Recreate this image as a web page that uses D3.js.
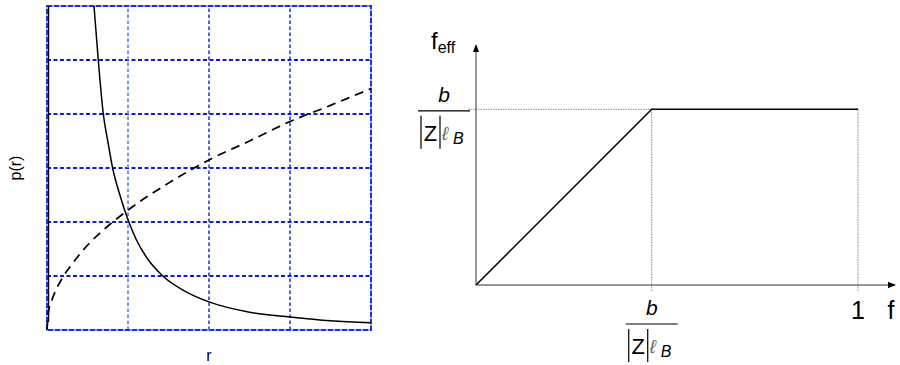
<!DOCTYPE html>
<html>
<head>
<meta charset="utf-8">
<script src="https://cdn.jsdelivr.net/npm/d3@7"></script>
<style>
  html, body { margin: 0; padding: 0; background: #fff; }
  svg { display: block; font-family: "Liberation Sans", Arial, sans-serif; }
</style>
</head>
<body>
<svg id="chart" width="900" height="365"></svg>
<script>
// ---- Left panel: p(r) curves ----
const decayR = [0.58, 0.633, 0.695, 0.75, 0.81, 0.9, 1.0, 1.1, 1.25, 1.43, 1.7, 2.0, 2.5, 3.0, 3.5, 4.0];
const decayP = [6.0, 5.0, 4.0, 3.5, 3.0, 2.5, 2.04, 1.68, 1.3, 1.0, 0.72, 0.52, 0.33, 0.24, 0.17, 0.135];
const growR = [0, 0.02, 0.06, 0.18, 0.3, 0.5, 0.68, 1.0, 1.5, 2.0, 2.5, 3.0, 3.5, 4.0];
const growP = [0, 0.35, 0.55, 0.94, 1.2, 1.57, 1.83, 2.22, 2.72, 3.15, 3.5, 3.86, 4.16, 4.47];
const edgeR = [0.02, 0.02];
const edgeP = [0, 6];
const rGrid = [1, 2, 3];
const pGrid = [1, 2, 3, 4, 5];

// ---- Right panel: effective fraction ----
const knee = 0.46;              // b / (|Z| l_B)
const fVals = [0, knee, 1];
const fEffVals = [0, knee, knee];
const fTicks = [knee, 1];

const svg = d3.select("#chart");

// Left panel scales
const xL = d3.scaleLinear().domain([0, 4]).range([47, 371]);
const yL = d3.scaleLinear().domain([0, 6]).range([330, 6]);

const dark = "#0a1fd8";
const light = "#7d8ef2";

// grid lines
const gL = svg.append("g");
gL.selectAll("line.h").data(pGrid).join("line")
  .attr("x1", xL(0)).attr("x2", xL(4))
  .attr("y1", d => yL(d)).attr("y2", d => yL(d))
  .attr("stroke", dark).attr("stroke-width", 2).attr("stroke-dasharray", "4,2.5");
gL.selectAll("line.v").data(rGrid).join("line")
  .attr("x1", d => xL(d)).attr("x2", d => xL(d))
  .attr("y1", yL(0)).attr("y2", yL(6))
  .attr("stroke", d => d === 1 ? light : dark)
  .attr("stroke-width", d => d === 1 ? 2 : 1.4)
  .attr("stroke-dasharray", "3.5,2.5");

// frame
gL.append("rect")
  .attr("x", xL(0)).attr("y", yL(6))
  .attr("width", xL(4) - xL(0)).attr("height", yL(0) - yL(6))
  .attr("fill", "none").attr("stroke", "#9fb0f2").attr("stroke-width", 2);
gL.append("rect")
  .attr("x", xL(0)).attr("y", yL(6))
  .attr("width", xL(4) - xL(0)).attr("height", yL(0) - yL(6))
  .attr("fill", "none").attr("stroke", "#1a33d6").attr("stroke-width", 2)
  .attr("stroke-dasharray", "5,2");

// curves
const lineL = d3.line().x(d => xL(d[0])).y(d => yL(d[1])).curve(d3.curveMonotoneX);
svg.append("path")
  .datum(d3.zip(decayR, decayP))
  .attr("d", lineL).attr("fill", "none")
  .attr("stroke", "#000").attr("stroke-width", 1.5);
svg.append("path")
  .datum(d3.zip(growR, growP))
  .attr("d", lineL).attr("fill", "none")
  .attr("stroke", "#000").attr("stroke-width", 1.7)
  .attr("stroke-dasharray", "9,6");
svg.append("line")
  .attr("x1", xL(edgeR[0])).attr("x2", xL(edgeR[1]))
  .attr("y1", yL(edgeP[0]) - 8).attr("y2", yL(edgeP[1]))
  .attr("stroke", "#000").attr("stroke-width", 1.2);

// labels
svg.append("text")
  .attr("transform", `translate(21,${(yL(0) + yL(6)) / 2}) rotate(-90)`)
  .attr("text-anchor", "middle").attr("font-size", 16).text("p(r)");
svg.append("text")
  .attr("x", xL(2)).attr("y", 361)
  .attr("text-anchor", "middle").attr("font-size", 16).text("r");

// Right panel scales
const xR = d3.scaleLinear().domain([0, 1]).range([476, 858]);
const yR = d3.scaleLinear().domain([0, 1]).range([285, 285 - 382]);

// dotted guides
const guide = "#8a8a8a";
svg.append("line")
  .attr("x1", xR(0) - 8).attr("x2", xR(knee))
  .attr("y1", yR(knee)).attr("y2", yR(knee))
  .attr("stroke", guide).attr("stroke-width", 1).attr("stroke-dasharray", "1.5,1");
svg.selectAll("line.tick").data(fTicks).join("line")
  .attr("x1", d => xR(d)).attr("x2", d => xR(d))
  .attr("y1", yR(knee)).attr("y2", yR(0) + 7)
  .attr("stroke", guide).attr("stroke-width", 1).attr("stroke-dasharray", "1.5,1");

// axes with arrows
const defs = svg.append("defs");
defs.append("marker").attr("id", "arrow")
  .attr("viewBox", "0 0 10 10").attr("refX", 9).attr("refY", 5)
  .attr("markerWidth", 8).attr("markerHeight", 8).attr("markerUnits", "userSpaceOnUse")
  .attr("orient", "auto")
  .append("path").attr("d", "M0,1 L10,5 L0,9 Z").attr("fill", "#000");

svg.append("line")
  .attr("x1", xR(0)).attr("x2", xR(1.097))
  .attr("y1", yR(0)).attr("y2", yR(0))
  .attr("stroke", "#333").attr("stroke-width", 1).attr("marker-end", "url(#arrow)");
svg.append("line")
  .attr("x1", xR(0)).attr("x2", xR(0))
  .attr("y1", yR(0)).attr("y2", yR(0.628))
  .attr("stroke", "#333").attr("stroke-width", 1).attr("marker-end", "url(#arrow)");

// f_eff curve
const lineR = d3.line().x(d => xR(d[0])).y(d => yR(d[1]));
svg.append("path")
  .datum(d3.zip(fVals, fEffVals))
  .attr("d", lineR).attr("fill", "none")
  .attr("stroke", "#000").attr("stroke-width", 1.5);

// axis titles
const tY = svg.append("text").attr("x", 431).attr("y", 49);
tY.append("tspan").attr("font-size", 24).text("f");
tY.append("tspan").attr("font-size", 16).attr("dy", 4).text("eff");

svg.append("text")
  .attr("x", xR(1)).attr("y", 319)
  .attr("text-anchor", "middle").attr("font-size", 25).text("1");
svg.append("text")
  .attr("x", 891).attr("y", 319)
  .attr("text-anchor", "middle").attr("font-size", 25).text("f");

// b / (|Z| l_B) fraction label
function fraction(cx, lineY) {
  const x0 = cx - 26;
  const g = svg.append("g");
  g.append("text").attr("x", cx).attr("y", lineY - 9)
    .attr("text-anchor", "middle").attr("font-size", 21)
    .attr("font-style", "italic").text("b");
  g.append("line").attr("x1", x0).attr("x2", x0 + 52)
    .attr("y1", lineY).attr("y2", lineY)
    .attr("stroke", "#000").attr("stroke-width", 1.2);
  [3, 22].forEach(dx => {
    g.append("line").attr("x1", x0 + dx).attr("x2", x0 + dx)
      .attr("y1", lineY + 5).attr("y2", lineY + 38)
      .attr("stroke", "#000").attr("stroke-width", 1.2);
  });
  g.append("text").attr("x", x0 + 12.5).attr("y", lineY + 30)
    .attr("text-anchor", "middle").attr("font-size", 22).text("Z");
  g.append("text").attr("x", x0 + 24).attr("y", lineY + 29)
    .attr("font-size", 19).attr("font-style", "italic")
    .attr("fill", "#666").text("ℓ");
  g.append("text").attr("x", x0 + 35).attr("y", lineY + 33)
    .attr("font-size", 16).attr("font-style", "italic").text("B");
}
fraction(444, yR(knee) + 1.5);
fraction(xR(knee), 324);
</script>
</body>
</html>
